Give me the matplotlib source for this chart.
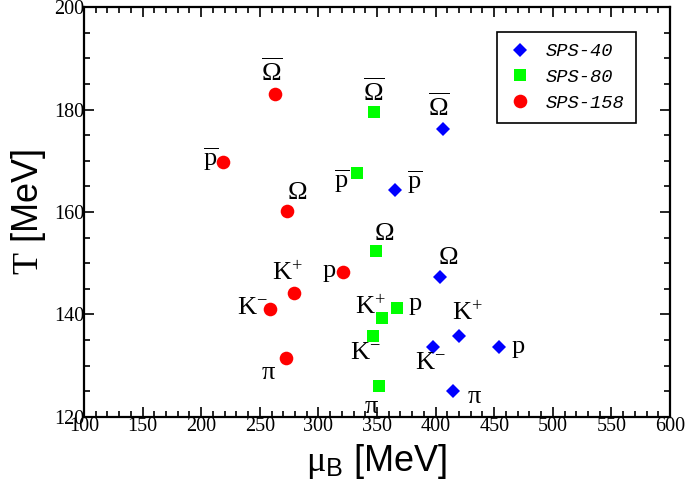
import numpy as np
import matplotlib
matplotlib.use("Agg")
import matplotlib.pyplot as plt
from matplotlib.ticker import MultipleLocator

plt.rcParams['mathtext.fontset'] = 'custom'
plt.rcParams['mathtext.rm'] = 'Liberation Serif'
plt.rcParams['mathtext.it'] = 'Liberation Serif:italic'
plt.rcParams['mathtext.sf'] = 'Liberation Sans'

# particle labels (mathtext)
OMB = r'$\overline{\mathrm{Ω}}$'
PB = r'$\overline{\mathrm{p}}$'
OM = r'$\mathrm{Ω}$'
P = r'$\mathrm{p}$'
KP = r'$\mathrm{K}^{+}$'
KM = r'$\mathrm{K}^{-}$'
PI = r'$\mathrm{π}$'

# SPS-40 (blue diamonds)
mu40 = [406.6, 365.4, 403.8, 420.2, 398.0, 453.8, 414.6]
T40 = [176.2, 164.3, 147.4, 135.9, 133.7, 133.6, 125.1]
lab40 = [OMB, PB, OM, KP, KM, P, PI]
off40 = [(-3, 15), (14, 6), (6, 14), (6, 16), (-2, -11), (14, 0), (16, -4)]

# SPS-80 (green squares)
mu80 = [347.4, 332.7, 349.0, 366.8, 354.0, 346.3, 351.4]
T80 = [179.5, 167.7, 152.4, 141.3, 139.4, 135.9, 126.0]
lab80 = [OMB, PB, OM, P, KP, KM, PI]
off80 = [(0, 14), (-11, -6), (6, 13), (13, 3), (-8, 7), (-5, -12), (-5, -14)]

# SPS-158 (red circles)
mu158 = [263.0, 218.6, 273.2, 321.0, 279.2, 258.7, 272.4]
T158 = [183.0, 169.8, 160.2, 148.3, 144.2, 141.1, 131.5]
lab158 = [OMB, PB, OM, P, KP, KM, PI]
off158 = [(-2, 15), (-9, 2), (7, 14), (-10, 1), (-5, 14), (-13, 1), (-13, -10)]

fig = plt.figure(figsize=(6.85, 4.94), dpi=100)
ax = fig.add_axes([0.1226, 0.1559, 0.8555, 0.8299])

ax.plot(mu40, T40, 'D', color='#0000ff', ms=7.2, mew=0, label='SPS-40', zorder=3)
ax.plot(mu80, T80, 's', color='#00ff00', ms=8.2, mew=0, label='SPS-80', zorder=3)
ax.plot(mu158, T158, 'o', color='#ff0000', ms=9.8, mew=0, label='SPS-158', zorder=3)

for mus, Ts, labs, offs in [(mu40, T40, lab40, off40), (mu80, T80, lab80, off80),
                            (mu158, T158, lab158, off158)]:
    for m, t, l, o in zip(mus, Ts, labs, offs):
        ax.annotate(l, (m, t), xytext=o, textcoords='offset points',
                    ha='center', va='center', fontsize=19, color='black')

ax.set_xlim(100, 600)
ax.set_ylim(120, 200)
ax.xaxis.set_major_locator(MultipleLocator(50))
ax.xaxis.set_minor_locator(MultipleLocator(10))
ax.yaxis.set_major_locator(MultipleLocator(20))
ax.yaxis.set_minor_locator(MultipleLocator(5))
ax.tick_params(which='both', direction='in', top=True, right=True, width=1.2,
               labelsize=14.5, labelfontfamily='Liberation Serif')
ax.tick_params(which='major', length=7)
ax.tick_params(which='minor', length=4)
ax.tick_params(axis='x', pad=0)
ax.tick_params(axis='y', pad=0)
for s in ax.spines.values():
    s.set_linewidth(1.6)

ax.set_xlabel(r'$\mathrm{μ}_{\mathsf{B}}$ [MeV]', fontsize=26, family='Liberation Sans', labelpad=4)
ax.set_ylabel(r'$\mathrm{T}$ [MeV]', fontsize=26, family='Liberation Sans', labelpad=4)

leg = ax.legend(loc='upper right', bbox_to_anchor=(0.942, 0.939), borderaxespad=0,
                prop={'family': 'Liberation Mono', 'style': 'italic', 'size': 13.5},
                fancybox=False, edgecolor='black', framealpha=1, handletextpad=0.8,
                borderpad=0.6, labelspacing=0.45, handlelength=1.2)
leg.get_frame().set_linewidth(1.2)

fig.savefig('out.png', dpi=100)
